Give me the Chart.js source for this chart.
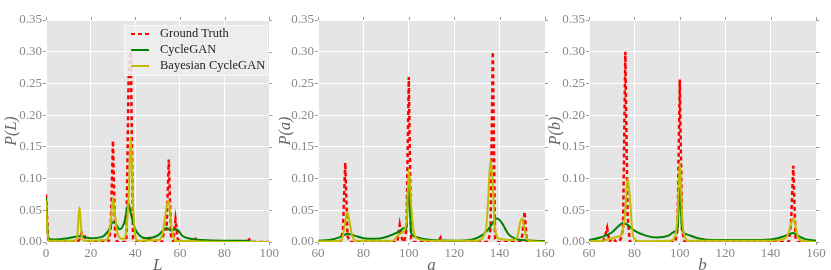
<!DOCTYPE html>
<html>
<head>
<meta charset="utf-8">
<script src="https://cdn.jsdelivr.net/npm/chart.js@4.4.0/dist/chart.umd.min.js"></script>
<style>
  body { margin: 0; background: #fff; width: 831px; height: 270px; overflow: hidden; }
  .panel { position: absolute; top: 0; }
</style>
</head>
<body>
<div class="panel" style="left:0px"><canvas id="cL" width="280" height="270"></canvas></div>
<div class="panel" style="left:278px"><canvas id="cA" width="282" height="270"></canvas></div>
<div class="panel" style="left:548px"><canvas id="cB" width="283" height="270"></canvas></div>
<script>
// --- data ---
const seriesNames = ['Ground Truth', 'CycleGAN', 'Bayesian CycleGAN'];
const yTicks = [0, 0.05, 0.10, 0.15, 0.20, 0.25, 0.30, 0.35];

// L panel
const gtL_x = [0, 1, 14, 15, 16, 17, 18, 19, 24, 25, 26, 28, 29, 30, 31, 32, 36, 37, 38, 39, 40, 45, 46, 47, 48, 52, 53, 54, 55, 56, 57, 58, 59, 60, 66, 67, 68, 76, 77, 78, 90, 91, 92, 100];
const gtL_y = [0.075, 0, 0, 0.004, 0.015, 0.012, 0.002, 0, 0, 0.002, 0, 0, 0.02, 0.16, 0.005, 0, 0, 0.26, 0.30, 0.005, 0, 0, 0.005, 0.004, 0, 0, 0.02, 0.02, 0.13, 0.01, 0, 0.035, 0.005, 0, 0, 0.005, 0, 0, 0.002, 0, 0, 0.004, 0, 0];
const cgL_x = [0, 1, 3, 10, 15, 17, 20, 25, 28, 30, 31, 33, 35, 37, 38, 40, 42, 45, 50, 53, 54, 56, 58, 59, 61, 65, 70, 80, 90, 92, 100];
const cgL_y = [0.07, 0.006, 0.004, 0.006, 0.009, 0.008, 0.006, 0.008, 0.018, 0.031, 0.03, 0.02, 0.03, 0.06, 0.045, 0.02, 0.01, 0.006, 0.01, 0.02, 0.022, 0.018, 0.02, 0.019, 0.01, 0.005, 0.003, 0.002, 0.002, 0.0005, 0];
const bcL_x = [0, 1, 13, 14, 15, 16, 17, 27, 28, 29, 30, 31, 32, 34, 35, 36, 37, 38, 39, 40, 41, 50, 52, 53, 54, 55, 56, 57, 58, 100];
const bcL_y = [0.065, 0.002, 0.002, 0.01, 0.055, 0.01, 0.002, 0.003, 0.01, 0.03, 0.07, 0.04, 0.015, 0.005, 0.005, 0.02, 0.07, 0.165, 0.06, 0.01, 0.002, 0.003, 0.01, 0.03, 0.055, 0.065, 0.03, 0.008, 0.002, 0];

// a panel
const gtA_x = [60, 70, 71, 72, 73, 74, 95, 96, 97, 98, 99, 100, 101, 102, 113, 114, 115, 135, 136, 137, 138, 139, 149, 150, 151, 152, 160];
const gtA_y = [0, 0, 0.02, 0.125, 0.01, 0, 0, 0.027, 0.005, 0, 0.02, 0.26, 0.005, 0, 0, 0.007, 0, 0, 0.02, 0.30, 0.005, 0, 0, 0.01, 0.048, 0, 0];
const cgA_x = [60, 65, 70, 73, 76, 80, 85, 90, 95, 98, 99, 100, 101, 103, 106, 110, 120, 128, 132, 135, 139, 141, 144, 147, 150, 155, 160];
const cgA_y = [0.002, 0.003, 0.008, 0.013, 0.01, 0.006, 0.005, 0.008, 0.015, 0.022, 0.02, 0.1, 0.015, 0.008, 0.005, 0.003, 0.002, 0.004, 0.01, 0.02, 0.037, 0.03, 0.012, 0.005, 0.003, 0.002, 0.001];
const bcA_x = [60, 70, 71, 72, 73, 74, 75, 77, 93, 95, 97, 99, 100, 101, 102, 104, 110, 130, 134, 135, 136, 137, 138, 140, 146, 148, 149, 150, 151, 152, 154, 160];
const bcA_y = [0.001, 0.002, 0.01, 0.03, 0.047, 0.03, 0.01, 0.002, 0.002, 0.01, 0.015, 0.03, 0.115, 0.06, 0.02, 0.005, 0.002, 0.002, 0.02, 0.07, 0.13, 0.09, 0.02, 0.005, 0.003, 0.01, 0.03, 0.037, 0.02, 0.005, 0.001, 0];

// b panel
const gtB_x = [60, 66, 67, 68, 69, 70, 71, 72, 73, 74, 75, 76, 77, 78, 98, 99, 100, 101, 102, 133, 134, 135, 148, 149, 150, 151, 152, 160];
const gtB_y = [0, 0, 0.008, 0.022, 0, 0.005, 0.004, 0, 0, 0.005, 0.02, 0.30, 0.04, 0, 0, 0.02, 0.256, 0.02, 0, 0, 0.002, 0, 0, 0.03, 0.12, 0.005, 0, 0];
const cgB_x = [60, 65, 70, 73, 75, 77, 80, 85, 90, 95, 98, 99, 100, 101, 103, 108, 115, 130, 140, 145, 148, 150, 152, 155, 160];
const cgB_y = [0.003, 0.007, 0.015, 0.025, 0.03, 0.027, 0.018, 0.01, 0.007, 0.01, 0.017, 0.02, 0.085, 0.02, 0.012, 0.006, 0.003, 0.003, 0.004, 0.008, 0.012, 0.014, 0.01, 0.005, 0.002];
const bcB_x = [60, 68, 72, 74, 75, 76, 77, 78, 79, 80, 82, 96, 98, 99, 100, 101, 102, 104, 140, 146, 148, 149, 150, 151, 152, 154, 160];
const bcB_y = [0.001, 0.003, 0.008, 0.01, 0.02, 0.05, 0.1, 0.07, 0.02, 0.005, 0.001, 0.002, 0.01, 0.04, 0.125, 0.04, 0.01, 0.002, 0.002, 0.005, 0.015, 0.03, 0.037, 0.025, 0.008, 0.002, 0];

const colors = ['#ff0000', '#008000', '#bfbf00'];
const FONT = "'Liberation Serif', 'DejaVu Serif', serif";

function pts(xs, ys) { return xs.map((x, i) => ({ x: x, y: ys[i] })); }

const bgPlugin = {
  id: 'bg',
  beforeDraw(chart) {
    const a = chart.chartArea, ctx = chart.ctx;
    ctx.save();
    ctx.fillStyle = '#e5e5e5';
    ctx.fillRect(a.left, a.top, a.right - a.left, a.bottom - a.top);
    ctx.restore();
  },
  afterDraw(chart) {
    // small ticks on top and right like the ggplot style
    const a = chart.chartArea, ctx = chart.ctx;
    ctx.save();
    ctx.strokeStyle = '#999';
    ctx.lineWidth = 1;
    chart.scales.x.ticks.forEach(t => {
      const px = Math.round(chart.scales.x.getPixelForValue(t.value)) + 0.5;
      ctx.beginPath(); ctx.moveTo(px, a.top); ctx.lineTo(px, a.top - 3); ctx.stroke();
    });
    chart.scales.y.ticks.forEach(t => {
      const py = Math.round(chart.scales.y.getPixelForValue(t.value)) + 0.5;
      ctx.beginPath(); ctx.moveTo(a.right, py); ctx.lineTo(a.right + 3, py); ctx.stroke();
    });
    ctx.restore();
  }
};

const legendPlugin = {
  id: 'inlegend',
  afterDraw(chart) {
    const ctx = chart.ctx;
    ctx.save();
    ctx.fillStyle = 'rgba(238,238,238,0.85)';
    ctx.strokeStyle = '#f8f8f8';
    ctx.lineWidth = 1;
    ctx.fillRect(124.5, 25.5, 143, 50);
    ctx.strokeRect(124.5, 25.5, 143, 50);
    seriesNames.forEach((name, i) => {
      const y = 34 + i * 16;
      ctx.strokeStyle = colors[i];
      ctx.lineWidth = 2;
      ctx.setLineDash(i === 0 ? [4, 3] : []);
      ctx.beginPath(); ctx.moveTo(131, y); ctx.lineTo(149, y); ctx.stroke();
      ctx.setLineDash([]);
      ctx.fillStyle = '#222';
      ctx.font = '12.5px ' + FONT;
      ctx.textBaseline = 'middle';
      ctx.fillText(name, 160, y);
    });
    ctx.restore();
  }
};

function makeChart(id, xs, ys, xmin, xmax, xTitle, yTitle, yWidth, padLeft, padRight, withLegend) {
  const datasets = seriesNames.map((name, i) => ({
    label: name,
    data: pts(xs[i], ys[i]),
    borderColor: colors[i],
    borderWidth: i === 0 ? 2.5 : 2,
    borderDash: i === 0 ? [4, 3] : [],
    pointRadius: 0,
    fill: false,
    tension: 0,
    cubicInterpolationMode: i === 0 ? 'default' : 'monotone',
    order: 3 - i
  }));
  const plugins = [bgPlugin];
  if (withLegend) plugins.push(legendPlugin);
  return new Chart(document.getElementById(id), {
    type: 'line',
    data: { datasets: datasets },
    plugins: plugins,
    options: {
      responsive: false,
      animation: false,
      devicePixelRatio: 1,
      layout: { padding: { top: 20, right: padRight, left: padLeft, bottom: 0 } },
      plugins: { legend: { display: false }, tooltip: { enabled: false } },
      scales: {
        x: {
          type: 'linear', min: xmin, max: xmax,
          afterFit(s) { s.height = 28; },
          ticks: { stepSize: 20, color: '#888', font: { family: FONT, size: 13 }, padding: 1, maxRotation: 0 },
          grid: { color: '#ffffff', lineWidth: 1, tickColor: '#999', tickLength: 3 },
          border: { display: false },
          title: { display: true, text: xTitle, color: '#666', font: { family: FONT, size: 17, style: 'italic', lineHeight: 1 }, padding: { top: 0, bottom: -4 } }
        },
        y: {
          min: 0, max: 0.35,
          afterFit(s) { s.width = yWidth; },
          afterBuildTicks(s) { s.ticks = yTicks.map(v => ({ value: v })); },
          ticks: { color: '#888', font: { family: FONT, size: 13 }, padding: 1, callback: v => v.toFixed(2) },
          grid: { color: '#ffffff', lineWidth: 1, tickColor: '#999', tickLength: 3 },
          border: { display: false },
          title: { display: true, text: yTitle, color: '#666', font: { family: FONT, size: 16, style: 'italic', lineHeight: 1 }, padding: { top: 0, bottom: 0 } }
        }
      }
    }
  });
}

makeChart('cL', [gtL_x, cgL_x, bcL_x], [gtL_y, cgL_y, bcL_y], 0, 100, 'L', 'P(L)', 42, 4, 8, true);
makeChart('cA', [gtA_x, cgA_x, bcA_x], [gtA_y, cgA_y, bcA_y], 60, 160, 'a', 'P(a)', 40, 0, 15, false);
makeChart('cB', [gtB_x, cgB_x, bcB_x], [gtB_y, cgB_y, bcB_y], 60, 160, 'b', 'P(b)', 41, 0, 15, false);
</script>
</body>
</html>
